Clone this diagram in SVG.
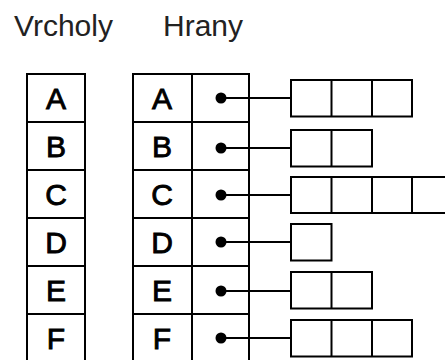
<svg xmlns="http://www.w3.org/2000/svg" width="445" height="360" viewBox="0 0 445 360">
<style>
.t{fill:none;stroke:#000;stroke-width:2}
.h{font-family:"Liberation Sans",Arial,sans-serif;font-size:30px;fill:#222}
.c{font-family:"Liberation Sans",Arial,sans-serif;font-size:30px;fill:#000;stroke:#000;stroke-width:0.9;text-anchor:middle}
.d{fill:#000}
.e{stroke:#000;stroke-width:2;fill:none}
</style>
<rect width="445" height="360" fill="#fff"/>
<text class="h" x="14" y="36">Vrcholy</text>
<text class="h" x="163" y="36">Hrany</text>
<g id="vertices">
<path class="t" d="M27,74H85V362H27Z M27,122H85 M27,170H85 M27,218H85 M27,266H85 M27,314H85"/>
<text class="c" x="56" y="109">A</text>
<text class="c" x="56" y="157">B</text>
<text class="c" x="56" y="205">C</text>
<text class="c" x="56" y="253">D</text>
<text class="c" x="56" y="301">E</text>
<text class="c" x="56" y="349">F</text>
</g>
<g id="edges">
<path class="t" d="M133,74H249V362H133Z M192,74V362 M133,122H249 M133,170H249 M133,218H249 M133,266H249 M133,314H249"/>
<text class="c" x="162" y="109">A</text>
<text class="c" x="162" y="157">B</text>
<text class="c" x="162" y="205">C</text>
<text class="c" x="162" y="253">D</text>
<text class="c" x="162" y="301">E</text>
<text class="c" x="162" y="349">F</text>
<circle class="d" cx="221" cy="98" r="5.5"/>
<circle class="d" cx="221" cy="148" r="5.5"/>
<circle class="d" cx="221" cy="195" r="5.5"/>
<circle class="d" cx="221" cy="242" r="5.5"/>
<circle class="d" cx="221" cy="291" r="5.5"/>
<circle class="d" cx="221" cy="338" r="5.5"/>
</g>
<g id="connectors">
<path class="e" d="M221,98H291 M221,148H291 M221,195H291 M221,242H291 M221,291H291 M221,338H291"/>
</g>
<g id="list-A"><path class="t" d="M291,80H412V116.5H291Z M331.5,80V116.5 M372,80V116.5"/></g>
<g id="list-B"><path class="t" d="M291,130H372V166.5H291Z M331.5,130V166.5"/></g>
<g id="list-C"><path class="t" d="M291,177H453V213H291Z M331.5,177V213 M372,177V213 M412,177V213"/></g>
<g id="list-D"><path class="t" d="M291,224H331.5V260.5H291Z"/></g>
<g id="list-E"><path class="t" d="M291,272H372V308.5H291Z M331.5,272V308.5"/></g>
<g id="list-F"><path class="t" d="M291,320H412V356.5H291Z M331.5,320V356.5 M372,320V356.5"/></g>
</svg>
